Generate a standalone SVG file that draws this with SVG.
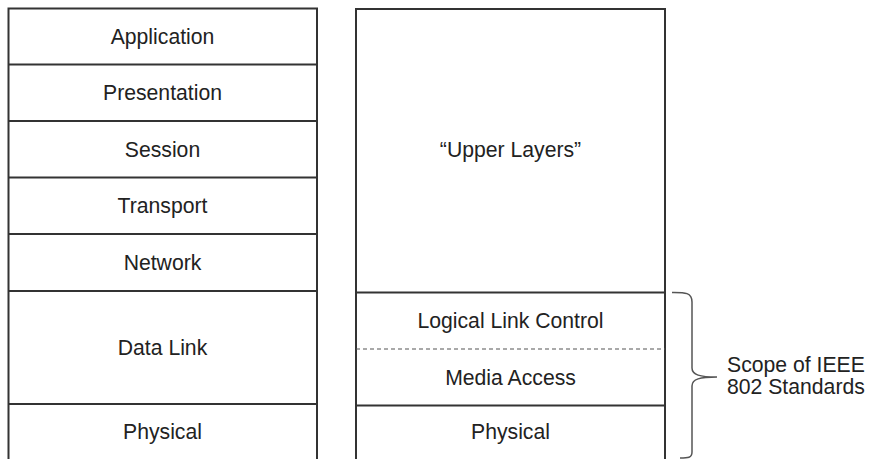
<svg xmlns="http://www.w3.org/2000/svg" width="869" height="459" viewBox="0 0 869 459">
<style>
.box{fill:#fff;stroke:#333;stroke-width:2}
.div{stroke:#333;stroke-width:2}
.dash{stroke:#555;stroke-width:1.2;stroke-dasharray:4 3}
.t{font-family:"Liberation Sans",Arial,sans-serif;font-size:21.2px;fill:#222;text-anchor:middle}
.s{font-family:"Liberation Sans",Arial,sans-serif;font-size:21.2px;fill:#222}
.brace{fill:none;stroke:#555;stroke-width:1.5}
</style>
<rect width="869" height="459" fill="#fff"/>
<g id="osi">
<path class="box" d="M8.5,470 V8.5 H317 V470"/>
<g id="application"><text class="t" x="162.5" y="43.5">Application</text></g>
<line class="div" x1="8.5" y1="64.5" x2="317" y2="64.5"/>
<g id="presentation"><text class="t" x="162.5" y="100">Presentation</text></g>
<line class="div" x1="8.5" y1="121" x2="317" y2="121"/>
<g id="session"><text class="t" x="162.5" y="156.5">Session</text></g>
<line class="div" x1="8.5" y1="177.5" x2="317" y2="177.5"/>
<g id="transport"><text class="t" x="162.5" y="213">Transport</text></g>
<line class="div" x1="8.5" y1="234" x2="317" y2="234"/>
<g id="network"><text class="t" x="162.5" y="269.5">Network</text></g>
<line class="div" x1="8.5" y1="291" x2="317" y2="291"/>
<g id="datalink"><text class="t" x="162.5" y="354.5">Data Link</text></g>
<line class="div" x1="8.5" y1="404" x2="317" y2="404"/>
<g id="physical-osi"><text class="t" x="162.5" y="438.5">Physical</text></g>
</g>
<g id="ieee">
<path class="box" d="M356,470 V9 H665 V470"/>
<g id="upper"><text class="t" x="510.5" y="157">“Upper Layers”</text></g>
<line class="div" x1="356" y1="292.5" x2="665" y2="292.5"/>
<g id="llc"><text class="t" x="510.5" y="328">Logical Link Control</text></g>
<line class="dash" x1="356" y1="349" x2="665" y2="349"/>
<g id="mac"><text class="t" x="510.5" y="384.5">Media Access</text></g>
<line class="div" x1="356" y1="405.5" x2="665" y2="405.5"/>
<g id="physical-ieee"><text class="t" x="510.5" y="438.5">Physical</text></g>
</g>
<g id="connectors">
<path class="brace" d="M672,292.5 C684,292.5 692,292 692,302 V368 C692,375 700,377 717,377 C700,377 692,379 692,386 V452 C692,458 688,458 680,458"/>
</g>
<g id="scope">
<text class="s" x="727" y="372">Scope of IEEE</text>
<text class="s" x="727" y="394">802 Standards</text>
</g>
</svg>
